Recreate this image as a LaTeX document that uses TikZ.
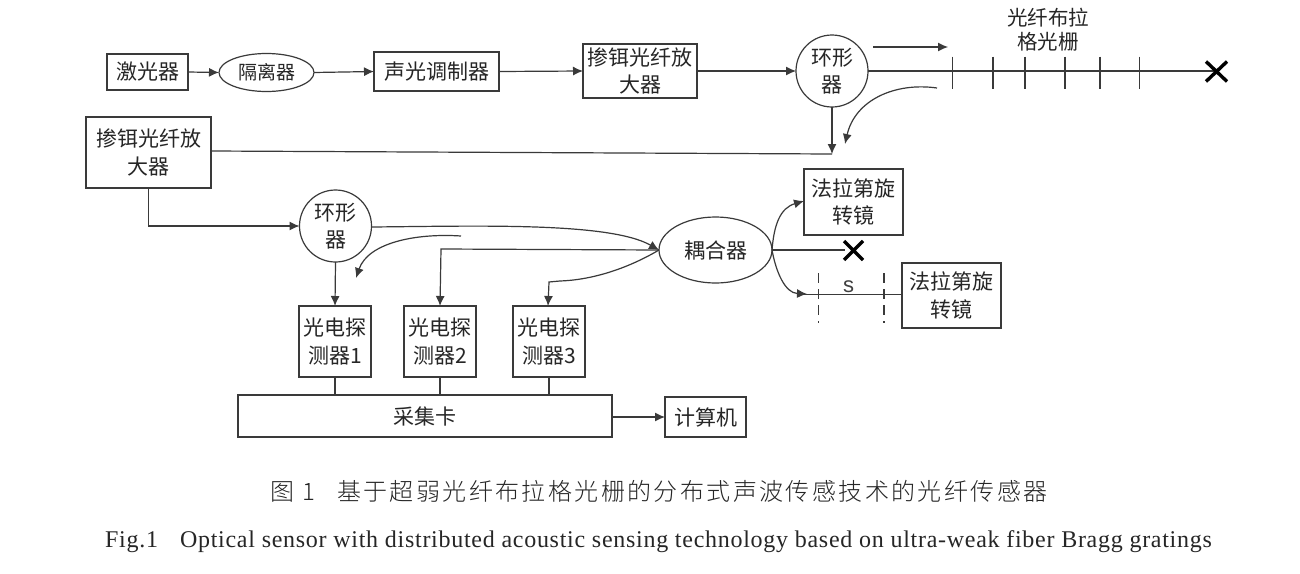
\documentclass[tikz,border=0pt]{standalone}
\usepackage{fontspec}
\setmainfont{Liberation Serif}
\newfontfamily\cjk{Noto Sans CJK SC}
\newfontfamily\cjkl{Noto Sans CJK SC}[UprightFont=* Light,LetterSpace=10]
\newfontfamily\capl{Liberation Serif}[LetterSpace=3]
\newfontfamily\lat{Liberation Sans}
\usetikzlibrary{arrows.meta,shapes.geometric}
\definecolor{ink}{HTML}{3A3A3A}
\tikzset{
  every node/.style={inner sep=0pt,outer sep=0pt,text=black!85},
  lab/.style={font=\cjk\fontsize{21}{27.5}\selectfont,align=center},
  boxa/.style={draw=ink,line width=1.2pt,fill=white,lab,minimum width=#1},
  ell/.style={draw=ink,line width=1.2pt,fill=white,ellipse,lab},
  circ/.style={draw=ink,line width=1.2pt,fill=white,circle,lab,minimum size=72pt},
  con/.style={draw=ink,line width=1.2pt},
  arr/.style={con,-{Latex[length=10pt,width=9pt]}},
  tick/.style={draw=ink,line width=1.1pt},
  cross/.style={draw=black,line width=3.4pt},
  dash2/.style={draw=ink,line width=1.1pt,dash pattern=on 10pt off 6pt},
}
\begin{document}
\begin{tikzpicture}[x=1pt,y=-1pt]
\useasboundingbox (0,0) rectangle (1300,573);
\fill[white] (0,0) rectangle (1300,573);
% top row
\node[boxa=81pt,minimum height=36pt] (laser) at (147.5,72) {激光器};
\node[ell,minimum width=95pt,minimum height=38pt,inner sep=0pt,font=\cjk\fontsize{19}{19}\selectfont] (iso) at (266.5,72.5) {隔离器};
\node[boxa=125pt,minimum height=39pt] (aom) at (436.5,71.5) {声光调制器};
\node[boxa=114pt,minimum height=54pt] (edfa1) at (640,71) {掺铒光纤放\\大器};
\node[circ] (circ1) at (832,71) {环形\\器};
\node[lab,font=\cjk\fontsize{20.5}{24}\selectfont] (fbgl) at (1048,30) {光纤布拉\\格光栅};
\coordinate (fend) at (1216,71);
\coordinate (t1s) at (873,47); \coordinate (t1e) at (948,47);
\coordinate (c1s) at (937,88); \coordinate (c1e) at (845,144);
\coordinate (j1) at (832,154);
% second row
\node[boxa=125pt,minimum height=71pt] (edfa2) at (148.5,152.5) {掺铒光纤放\\大器};
\node[circ] (circ2) at (335.5,226) {环形\\器};
\node[ell,minimum width=113pt,minimum height=66pt] (coup) at (715.5,250) {耦合器};
\node[boxa=99pt,minimum height=66pt] (fr1) at (853.5,202) {法拉第旋\\转镜};
\node[boxa=99pt,minimum height=65pt] (fr2) at (951.5,295.5) {法拉第旋\\转镜};
\node[boxa=72pt,minimum height=71pt] (pd1) at (335,341.5) {光电探\\测器1};
\node[boxa=72pt,minimum height=71pt] (pd2) at (440,341.5) {光电探\\测器2};
\node[boxa=72pt,minimum height=71pt] (pd3) at (549,341.5) {光电探\\测器3};
\node[boxa=374pt,minimum height=42pt] (daq) at (425,416) {采集卡};
\node[boxa=81pt,minimum height=40pt] (pc) at (705.5,417) {计算机};
% connectors top
\draw[arr] (laser.east) -- (iso.west);
\draw[arr] (iso.east) -- (aom.west);
\draw[arr] (aom.east) -- (edfa1.west);
\draw[arr] (edfa1.east) -- (circ1.west);
\draw[con] (circ1.east) -- (fend);
\foreach \x in {952.5,993,1025,1065,1100,1139.5} \draw[tick] (\x,56.5) -- (\x,89);
\draw[cross] (1206,61.5) -- (1227,81.5) (1227,61.5) -- (1206,81.5);
\draw[arr] (t1s) -- (t1e);
\draw[arr] (c1s) .. controls (895,82) and (855,100) .. (c1e);
\draw[arr] (circ1.south) -- (j1);
\draw[con] (edfa2.east |- 0,151) -- (j1);
% second
\draw[arr] (148.5,188) |- (circ2.west);
\draw[arr] (circ2.east |- 0,227) .. controls (480,226) and (610,222) .. (coup.west);
\coordinate (c2s) at (461,236); \coordinate (c2e) at (356,278);
\draw[arr] (c2s) .. controls (415,233) and (368,243) .. (c2e);
\draw[arr] (circ2.south) -- (pd1.north);
\draw[arr] (coup.west) -- (441,249) -- (440,306);
\draw[arr] (coup.west) .. controls (625,270) and (590,280) .. (560,281) -- (549,282) -- (548,306);
% right
\draw[arr] (coup.east) .. controls (774,225) and (780,208) .. (804,201);
\draw[con] (coup.east) -- (845,250);
\draw[cross] (844,241) -- (863,260) (863,241) -- (844,260);
\draw[arr] (coup.east) .. controls (776,272) and (785,293) .. (807,294);
\draw[con] (800,294.5) -- (fr2.west |- 0,294.5);
\draw[dash2] (818.5,273) -- (818.5,323);
\draw[dash2] (884,273) -- (884,323);
\node[font=\lat\fontsize{22}{22}\selectfont,text=black!75] (s) at (848.5,287) {s};
% bottom
\draw[con] (pd1.south) -- (pd1.south |- daq.north);
\draw[con] (pd2.south) -- (pd2.south |- daq.north);
\draw[con] (pd3.south) -- (pd3.south |- daq.north);
\draw[arr] (daq.east |- pc.west) -- (pc.west);
% captions
\node[font=\cjkl\fontsize{24}{24}\selectfont,text=black!85,anchor=center] (cap1) at (659,491) {图 1\hspace{22pt}基于超弱光纤布拉格光栅的分布式声波传感技术的光纤传感器};
\node[font=\capl\fontsize{24}{24}\selectfont,text=black!85,anchor=center] (cap2) at (658.5,542) {Fig.1\hspace{22pt}Optical sensor with distributed acoustic sensing technology based on ultra-weak fiber Bragg gratings};
\end{tikzpicture}
\end{document}
